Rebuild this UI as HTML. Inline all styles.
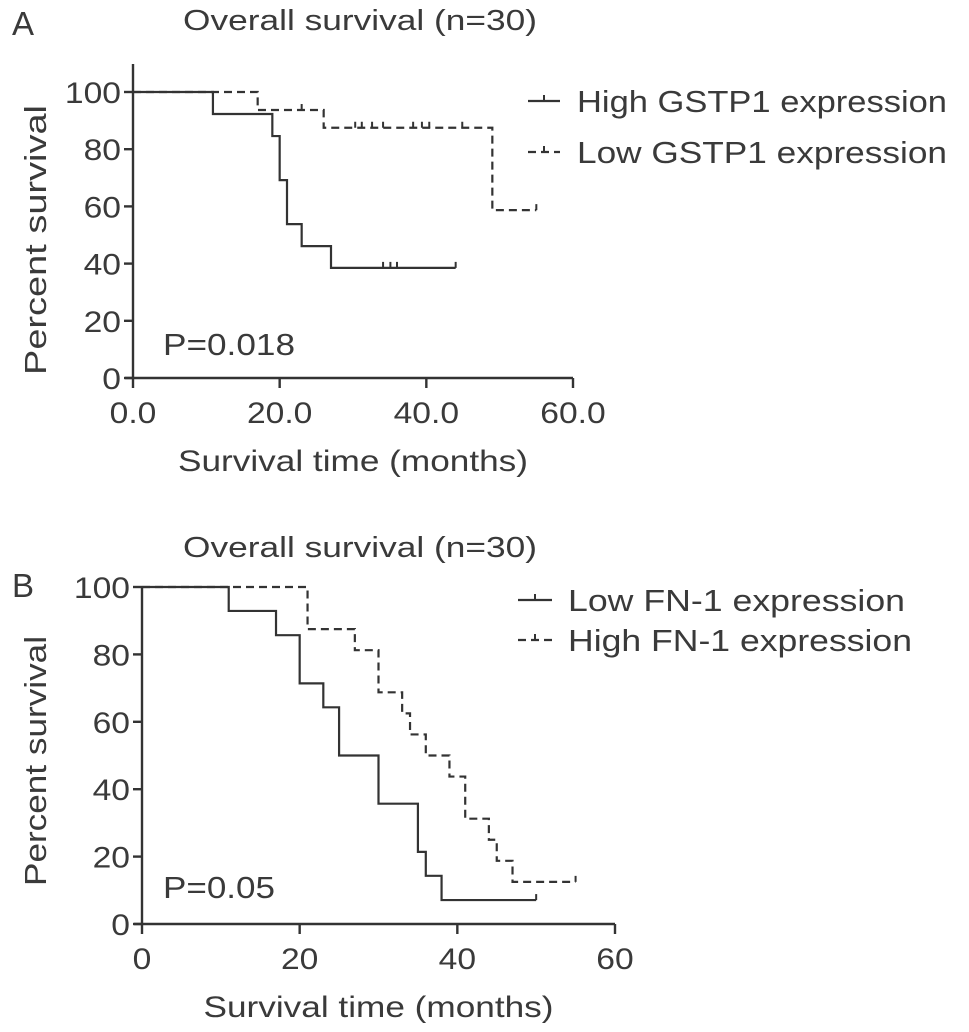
<!DOCTYPE html>
<html><head><meta charset="utf-8"><style>
html,body{margin:0;padding:0;background:#fff;}
svg{display:block;font-family:"Liberation Sans",sans-serif;}
text{fill:#3a3a3a;}
</style></head><body>
<svg id="fig" width="969" height="1032" viewBox="0 0 969 1032">
<text class="w" x="12" y="35" font-size="33">A</text>
<text x="183" y="30" font-size="29" textLength="354" lengthAdjust="spacingAndGlyphs">Overall survival (n=30)</text>
<text class="w" x="12" y="597" font-size="33">B</text>
<text x="183" y="557" font-size="29" textLength="354" lengthAdjust="spacingAndGlyphs">Overall survival (n=30)</text>
</svg>
<script>
// Panel A data
const aTicksX = ["0.0","20.0","40.0","60.0"];
const aTickXVals = [0,20,40,60];
const yTickVals = [0,20,40,60,80,100];
const aHighT = [0,10.9,19,20,21,23,27,44];
const aHighS = [100,92.3,84.6,69.2,53.8,46.1,38.5,38.5];
const aHighCens = [34.1,35.1,36.0,44];
const aLowT = [0,17,26,49,55];
const aLowS = [100,93.7,87.5,58.7,58.7];
const aLowCens = [23,30.3,31.2,32.6,34.1,38.2,39.4,40.4,44.9,55];
// Panel B data
const bTicksX = ["0","20","40","60"];
const bTickXVals = [0,20,40,60];
const bLowT = [0,11,17,20,23,25,30,35,36,38,50];
const bLowS = [100,92.9,85.7,71.4,64.3,50,35.7,21.4,14.3,7.1,7.1];
const bLowCens = [50];
const bHighT = [0,21,27,30,33,34,36,39,41,44,45,47,55];
const bHighS = [100,87.5,81.25,68.75,62.5,56.25,50,43.75,31.25,25,18.75,12.5,12.5];
const bHighCens = [55];

const NS="http://www.w3.org/2000/svg";
const svg=document.getElementById('fig');
function mk(tag,attrs,parent){const e=document.createElementNS(NS,tag);for(const k in attrs)e.setAttribute(k,attrs[k]);(parent||svg).appendChild(e);return e;}
function widen(t,k){const w=t.getComputedTextLength();t.setAttribute('textLength',(w*k).toFixed(1));t.setAttribute('lengthAdjust','spacingAndGlyphs');}

function panel(p){
  const g=mk('g',{});
  
  
  const X=t=>p.x0+(t/60)*(p.x1-p.x0);
  const Y=s=>p.y0-(s/100)*(p.y0-p.y1);
  const st={stroke:'#333','stroke-width':2.4,fill:'none'};
  const ya=mk('line',Object.assign({x1:X(0),y1:p.y0,x2:X(0),y2:p.ytop},st),g);
  
  
  const xa=mk('line',Object.assign({x1:X(0)-8,y1:p.y0,x2:X(60),y2:p.y0},st),g);
  
  
  yTickVals.forEach(v=>{
    mk('line',Object.assign({x1:X(0)-9,y1:Y(v),x2:X(0),y2:Y(v)},st),g);
    const t=mk('text',{x:X(0)-12,y:Y(v)+11,'font-size':30,'text-anchor':'end'},g);
    t.textContent=v;
    
    
    widen(t,1.12);
  });
  p.xv.forEach((v,i)=>{
    mk('line',Object.assign({x1:X(v),y1:p.y0,x2:X(v),y2:p.y0+10},st),g);
    const t=mk('text',{x:X(v),y:p.y0+45,'font-size':30,'text-anchor':'middle'},g);
    t.textContent=p.xl[i];
    
    
    widen(t,1.12);
  });
  const xt=mk('text',{x:(X(0)+X(60))/2,y:p.y0+93,'font-size':30,'text-anchor':'middle',textLength:350,lengthAdjust:'spacingAndGlyphs'},g);
  xt.textContent='Survival time (months)';
  
  
  const yt=mk('text',{x:0,y:0,'font-size':31,'text-anchor':'middle',textLength:p.ytl,lengthAdjust:'spacingAndGlyphs',transform:`translate(46,${p.ytc}) rotate(-90)`},g);
  yt.textContent='Percent survival';
  
  
  const pv=mk('text',{x:163,y:p.py,'font-size':31,textLength:p.pw,lengthAdjust:'spacingAndGlyphs'},g);
  pv.textContent=p.pval;
  
  
  p.series.forEach((s,si)=>{
    let d=`M${X(s.t[0])},${Y(s.s[0])}`;
    for(let i=1;i<s.t.length;i++){d+=` H${X(s.t[i])} V${Y(s.s[i])}`;}
    const attrs=Object.assign({d},st,{'stroke-width':2.2});
    if(s.dash)attrs['stroke-dasharray']='8,5';
    const path=mk('path',attrs,g);
    
    
    s.c.forEach(c=>{
      let sv=s.s[0];
      for(let i=0;i<s.t.length;i++){if(s.t[i]<=c)sv=s.s[i];}
      const m=mk('line',{x1:X(c),y1:Y(sv)-6,x2:X(c),y2:Y(sv),stroke:'#333','stroke-width':2},g);
      
      
    });
    const ly=p.legY+si*p.legGap;
    const ll=mk('line',Object.assign({x1:p.legX,y1:ly,x2:p.legX+p.legLw,y2:ly},st,{'stroke-width':2.2}),g);
    if(s.dash)ll.setAttribute('stroke-dasharray','8,5');
    
    
    mk('line',{x1:p.legX+p.legLw/2,y1:ly-6,x2:p.legX+p.legLw/2,y2:ly,stroke:'#333','stroke-width':2},g);
    const lt=mk('text',{x:p.legTx,y:ly+11,'font-size':31,textLength:s.lw,lengthAdjust:'spacingAndGlyphs'},g);
    lt.textContent=s.label;
    
    
  });
}
panel({id:'panel-a',x0:133,x1:573,y0:378,y1:92,ytop:64,xv:aTickXVals,xl:aTicksX,pval:'P=0.018',py:355,pw:132,ytc:240,ytl:270,
  legX:528,legLw:32,legY:101,legGap:51,legTx:577,
  series:[{key:'high-gstp1',t:aHighT,s:aHighS,c:aHighCens,dash:false,label:'High GSTP1 expression',lw:370},
          {key:'low-gstp1',t:aLowT,s:aLowS,c:aLowCens,dash:true,label:'Low GSTP1 expression',lw:370}]});
panel({id:'panel-b',x0:142,x1:615,y0:924,y1:587,ytop:587,xv:bTickXVals,xl:bTicksX,pval:'P=0.05',py:898,pw:112,ytc:761,ytl:250,
  legX:518,legLw:34,legY:600,legGap:40,legTx:568,
  series:[{key:'low-fn1',t:bLowT,s:bLowS,c:bLowCens,dash:false,label:'Low FN-1 expression',lw:337},
          {key:'high-fn1',t:bHighT,s:bHighS,c:bHighCens,dash:true,label:'High FN-1 expression',lw:344}]});
</script>
</body></html>
